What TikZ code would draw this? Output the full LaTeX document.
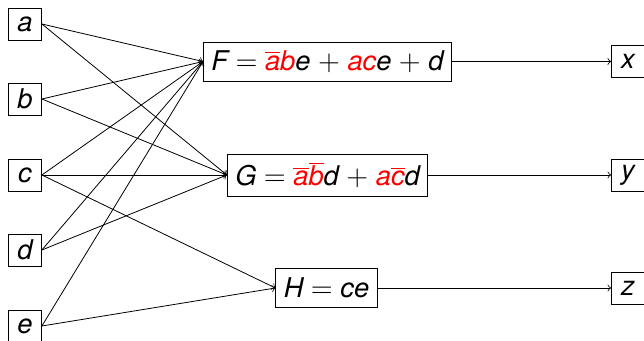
\documentclass[tikz,border=0pt]{standalone}
\usepackage{fontspec}
\setmainfont{TeX Gyre Heros}
\newcommand{\nt}[1]{$\overline{\mbox{#1}}$}
\begin{document}
\begin{tikzpicture}[x=0.5pt,y=-0.5pt,
    var/.style={draw, font=\fontsize{13.6}{16}\selectfont\itshape, minimum width=16.5pt, minimum height=16pt, inner sep=1pt},
    fun/.style={draw, font=\fontsize{13.6}{16}\selectfont\itshape, minimum height=19.5pt, inner sep=4pt},
    >=to]
    \useasboundingbox (0,0) rectangle (644,341);
    % Inputs
    \node[var] (a) at (25,24) {a};
    \node[var] (b) at (25,99) {b};
    \node[var] (c) at (25,175) {c};
    \node[var] (d) at (25,250) {d};
    \node[var] (e) at (25,326) {e};
    % Functions
    \node[fun] (F) at (327.5,61.5) {F $=$ \textcolor{red}{\nt{a}b}e $+$ \textcolor{red}{ac}e $+$ d};
    \node[fun] (G) at (327.5,175) {G $=$ \textcolor{red}{\nt{a}\nt{b}}d $+$ \textcolor{red}{a\nt{c}}d};
    \node[fun] (H) at (326.5,288) {H $=$ ce};
    % Outputs
    \node[var] (x) at (628,61.5) {x};
    \node[var] (y) at (628,175) {y};
    \node[var] (z) at (628,288) {z};
    % Wires
    \foreach \s in {a,b,c,d,e} \draw[->] (\s.east) -- (F.west);
    \foreach \s in {a,b,c,d} \draw[->] (\s.east) -- (G.west);
    \foreach \s in {c,e} \draw[->] (\s.east) -- (H.west);
    \draw[->] (F.east) -- (x.west);
    \draw[->] (G.east) -- (y.west);
    \draw[->] (H.east) -- (z.west);
\end{tikzpicture}
\end{document}
